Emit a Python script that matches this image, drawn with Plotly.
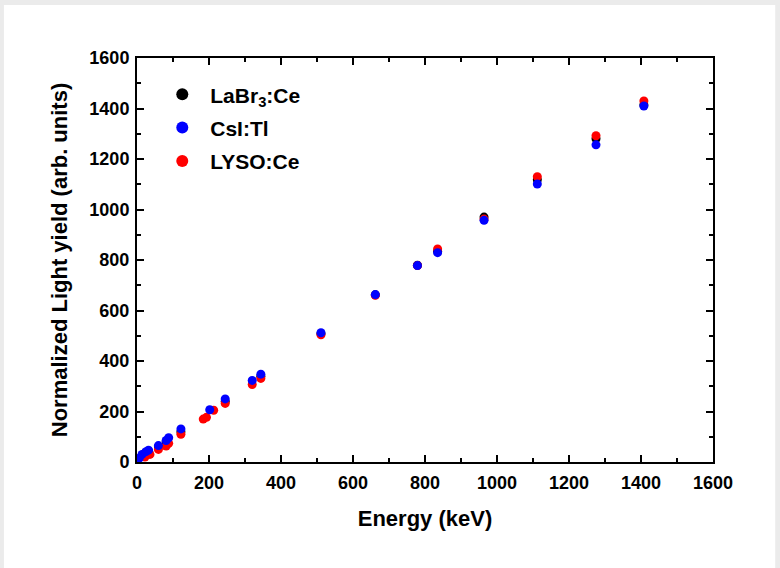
import plotly.graph_objects as go

# Data
labr_energy = [14, 22, 32, 59.5, 81, 122, 245, 344, 511, 662, 779, 835, 964, 1112, 1275, 1408]
labr_yield = [25, 35, 43, 60, 80, 120, 240, 340, 508, 662, 779, 835, 970, 1118, 1280, 1414]

csi_energy = [6, 14, 25, 32, 59.5, 81, 88, 122, 202, 245, 320, 344, 511, 662, 779, 835, 964, 1112, 1275, 1408]
csi_yield = [15, 30, 41, 47, 65, 85, 96, 131, 207, 250, 323, 348, 512, 663, 778, 829, 957, 1101, 1256, 1410]

lyso_energy = [22, 36, 59.5, 81, 88, 122, 184, 193, 213, 245, 320, 344, 511, 662, 779, 835, 964, 1112, 1275, 1408]
lyso_yield = [20, 30, 50, 63, 74, 110, 170, 177, 205, 232, 307, 331, 504, 660, 778, 844, 962, 1130, 1292, 1430]

names = ["LaBr<sub>3</sub>:Ce", "CsI:Tl", "LYSO:Ce"]
colors = ["#000000", "#0000ff", "#ff0000"]

FONT = "Liberation Sans, Arial"

fig = go.Figure()
# draw order: black, red, blue (blue on top); legend order: black, blue, red
fig.add_trace(go.Scatter(x=labr_energy, y=labr_yield, mode="markers", name=names[0],
                         legendgroup="a", marker=dict(color=colors[0], size=9), legendrank=1))
fig.add_trace(go.Scatter(x=lyso_energy, y=lyso_yield, mode="markers", name=names[2],
                         legendgroup="c", marker=dict(color=colors[2], size=9), legendrank=3))
fig.add_trace(go.Scatter(x=csi_energy, y=csi_yield, mode="markers", name=names[1],
                         legendgroup="b", marker=dict(color=colors[1], size=9), legendrank=2))

axis_common = dict(
    showgrid=False, zeroline=False, showline=True, linecolor="black", linewidth=2,
    mirror="ticks", ticks="inside", ticklen=7, tickwidth=2, tickcolor="black",
    minor=dict(ticks="inside", ticklen=4, tickwidth=2, tickcolor="black", dtick=100),
    tickfont=dict(family=FONT, size=18, color="black", weight="bold"),
    dtick=200, tick0=0,
)

fig.update_layout(
    width=780, height=568,
    margin=dict(l=137, r=67, t=58, b=106),
    paper_bgcolor="#ebebeb", plot_bgcolor="white",
    showlegend=True,
    legend=dict(x=0.03, y=0.96, xanchor="left", yanchor="top", bgcolor="rgba(0,0,0,0)",
                font=dict(family=FONT, size=21, color="black", weight="bold"),
                tracegroupgap=3, itemwidth=46, itemsizing="constant"),
    xaxis=dict(range=[0, 1600], ticklabelstandoff=3,
               title=dict(text="Energy (keV)", standoff=19,
                          font=dict(family=FONT, size=22, color="black", weight="bold")),
               **axis_common),
    yaxis=dict(range=[0, 1600], ticklabelstandoff=2,
               title=dict(text="Normalized Light yield (arb. units)", standoff=16,
                          font=dict(family=FONT, size=22, color="black", weight="bold")),
               **axis_common),
    shapes=[dict(type="rect", xref="paper", yref="paper", x0=-0.231, x1=1.108, y0=-0.27, y1=1.131,
                 fillcolor="white", line=dict(width=0), layer="below")],
)

fig.write_html("out.html")
